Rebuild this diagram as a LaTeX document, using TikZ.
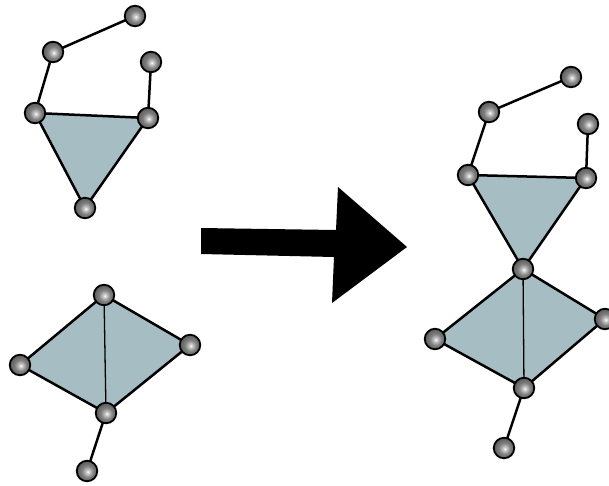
\documentclass[tikz,border=0pt]{standalone}
\usetikzlibrary{backgrounds}
\pgfdeclareradialshading{nodeball}{\pgfpoint{2bp}{-2bp}}{color(0bp)=(white); color(4bp)=(black!20); color(14bp)=(black!50); color(24bp)=(black!62); color(34bp)=(black!80); color(50bp)=(black)}
\definecolor{polyfill}{RGB}{167,189,196}
\tikzset{
  ball/.style={circle, draw=black, line width=1.8pt, shading=nodeball, minimum size=20.5pt, inner sep=0pt},
  edge/.style={draw=black, line width=2.5pt, line cap=round},
  poly/.style={draw=black, fill=polyfill, line width=2.5pt, line join=round},
  thinedge/.style={draw=black, line width=1.3pt},
}
\begin{document}
\begin{tikzpicture}[x=1pt,y=-1pt]
\useasboundingbox (0,0) rectangle (609,485);
% left top
\node[ball] (a1) at (135,16) {};
\node[ball] (a2) at (53,52) {};
\node[ball] (a3) at (35,113) {};
\node[ball] (a4) at (148,118) {};
\node[ball] (a5) at (151,62) {};
\node[ball] (a6) at (85,208) {};
% left bottom
\node[ball] (b1) at (104,295) {};
\node[ball] (b2) at (20,365) {};
\node[ball] (b3) at (190,345) {};
\node[ball] (b4) at (106,413) {};
\node[ball] (b5) at (87,471) {};
% right
\node[ball] (c1) at (571,77) {};
\node[ball] (c2) at (489,112) {};
\node[ball] (c3) at (468,175) {};
\node[ball] (c4) at (586,178) {};
\node[ball] (c5) at (588,124) {};
\node[ball] (c6) at (523,269) {};
\node[ball] (c7) at (435,339) {};
\node[ball] (c8) at (605,319) {};
\node[ball] (c9) at (524,388) {};
\node[ball] (c10) at (504,448) {};
\begin{scope}[on background layer]
  \draw[edge] (a1.center) -- (a2.center) -- (a3.center);
  \draw[edge] (a4.center) -- (a5.center);
  \draw[poly] (a3.center) -- (a4.center) -- (a6.center) -- cycle;
  \draw[poly] (b2.center) -- (b1.center) -- (b3.center) -- (b4.center) -- cycle;
  \draw[thinedge] (b1.center) -- (b4.center);
  \draw[edge] (b4.center) -- (b5.center);
  \draw[edge] (c1.center) -- (c2.center) -- (c3.center);
  \draw[edge] (c4.center) -- (c5.center);
  \draw[poly] (c3.center) -- (c4.center) -- (c6.center) -- cycle;
  \draw[poly] (c7.center) -- (c6.center) -- (c8.center) -- (c9.center) -- cycle;
  \draw[thinedge] (c6.center) -- (c9.center);
  \draw[edge] (c9.center) -- (c10.center);
\end{scope}
% big arrow
\fill[black] (201,228) -- (336,230) -- (338,187) -- (407,247) -- (332,303) -- (334,257) -- (201,254) -- cycle;
\end{tikzpicture}
\end{document}
